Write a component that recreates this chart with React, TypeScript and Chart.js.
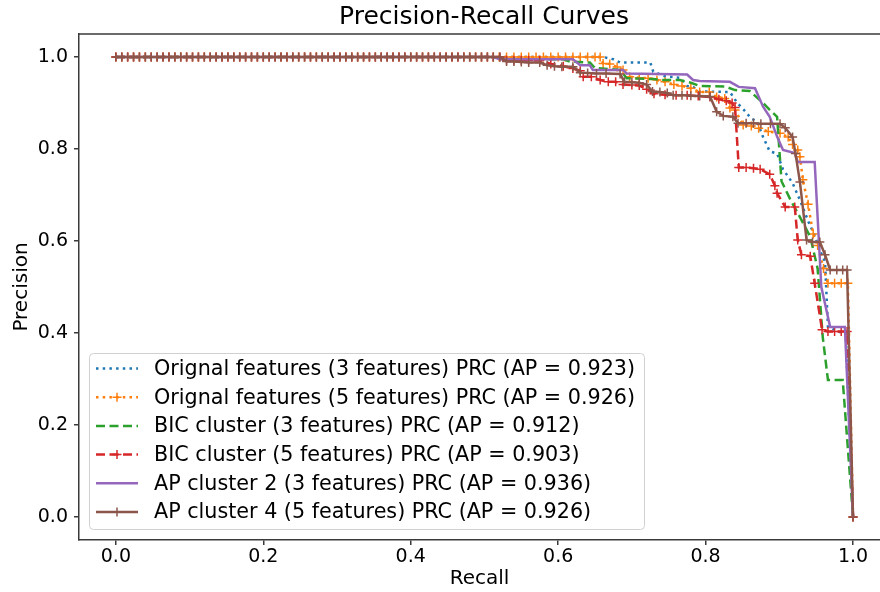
import React, { useEffect, useRef } from 'react';
import { Chart, registerables } from 'chart.js';

Chart.register(...registerables);

const TITLE = 'Precision-Recall Curves';
const X_LABEL = 'Recall';
const Y_LABEL = 'Precision';
const X_TICKS = [0, 0.2, 0.4, 0.6, 0.8, 1.0];
const Y_TICKS = [0, 0.2, 0.4, 0.6, 0.8, 1.0];

const LABELS = [
  'Orignal features (3 features) PRC (AP = 0.923)',
  'Orignal features (5 features) PRC (AP = 0.926)',
  'BIC cluster (3 features) PRC (AP = 0.912)',
  'BIC cluster (5 features) PRC (AP = 0.903)',
  'AP cluster 2 (3 features) PRC (AP = 0.936)',
  'AP cluster 4 (5 features) PRC (AP = 0.926)',
];

// shared flat start (precision = 1.0) of every curve
const TOP_RECALL = [
  0, 0.008, 0.016, 0.024, 0.032, 0.04, 0.048, 0.056, 0.064, 0.072, 0.08, 0.088, 0.096,
  0.104, 0.112, 0.12, 0.128, 0.136, 0.144, 0.152, 0.16, 0.168, 0.176, 0.184, 0.192, 0.2,
  0.208, 0.216, 0.224, 0.232, 0.24, 0.248, 0.256, 0.264, 0.272, 0.28, 0.288, 0.296, 0.304,
  0.312, 0.32, 0.328, 0.336, 0.344, 0.352, 0.36, 0.368, 0.376, 0.384, 0.392, 0.4, 0.408,
  0.416, 0.424, 0.432, 0.44, 0.448, 0.456, 0.464, 0.472, 0.48, 0.488, 0.496, 0.504, 0.512,
];
const TOP_PRECISION = [
  1, 1, 1, 1, 1, 1, 1, 1, 1, 1, 1, 1, 1,
  1, 1, 1, 1, 1, 1, 1, 1, 1, 1, 1, 1, 1,
  1, 1, 1, 1, 1, 1, 1, 1, 1, 1, 1, 1, 1,
  1, 1, 1, 1, 1, 1, 1, 1, 1, 1, 1, 1, 1,
  1, 1, 1, 1, 1, 1, 1, 1, 1, 1, 1, 1, 1,
];

const BLUE_RECALL = [0.661, 0.675, 0.684, 0.725, 0.729, 0.745, 0.765, 0.775, 0.783, 0.792, 0.833, 0.843, 0.852, 0.862, 0.870, 0.878, 0.887, 0.897, 0.905, 0.912, 0.918, 0.928, 0.940, 0.948, 0.955, 0.962, 0.966, 0.982, 0.990, 1.0];
const BLUE_PRECISION = [1.0, 0.995, 0.988, 0.988, 0.968, 0.958, 0.955, 0.937, 0.935, 0.925, 0.924, 0.900, 0.885, 0.866, 0.860, 0.826, 0.795, 0.790, 0.756, 0.740, 0.726, 0.689, 0.640, 0.612, 0.580, 0.555, 0.413, 0.402, 0.400, 0.0];

const ORANGE_RECALL = [0.52, 0.53, 0.54, 0.55, 0.56, 0.57, 0.58, 0.59, 0.60, 0.61, 0.62, 0.63, 0.64, 0.65, 0.657, 0.661, 0.670, 0.680, 0.688, 0.697, 0.710, 0.722, 0.734, 0.745, 0.757, 0.768, 0.780, 0.792, 0.805, 0.815, 0.826, 0.833, 0.840, 0.851, 0.862, 0.872, 0.885, 0.901, 0.912, 0.918, 0.925, 0.928, 0.932, 0.939, 0.946, 0.952, 0.960, 0.966, 0.975, 0.984, 0.993, 1.0];
const ORANGE_PRECISION = [1, 1, 1, 1, 1, 1, 1, 1, 1, 1, 1, 1, 1, 1, 1, 0.986, 0.985, 0.978, 0.972, 0.957, 0.955, 0.954, 0.950, 0.946, 0.940, 0.937, 0.932, 0.924, 0.924, 0.913, 0.910, 0.889, 0.885, 0.852, 0.850, 0.845, 0.838, 0.834, 0.826, 0.810, 0.798, 0.783, 0.733, 0.680, 0.615, 0.590, 0.540, 0.508, 0.508, 0.508, 0.508, 0.0];

const GREEN_RECALL = [0.525, 0.607, 0.616, 0.643, 0.650, 0.684, 0.693, 0.729, 0.740, 0.765, 0.780, 0.792, 0.826, 0.840, 0.860, 0.878, 0.887, 0.897, 0.900, 0.903, 0.915, 0.928, 0.942, 0.952, 0.959, 0.966, 0.986, 1.0];
const GREEN_PRECISION = [0.995, 0.995, 0.990, 0.988, 0.976, 0.972, 0.954, 0.952, 0.950, 0.950, 0.944, 0.937, 0.936, 0.928, 0.926, 0.900, 0.885, 0.870, 0.800, 0.730, 0.690, 0.652, 0.609, 0.540, 0.390, 0.298, 0.298, 0.0];

const RED_RECALL = [0.521, 0.530, 0.540, 0.550, 0.560, 0.575, 0.590, 0.607, 0.620, 0.630, 0.634, 0.645, 0.657, 0.668, 0.678, 0.688, 0.700, 0.710, 0.720, 0.730, 0.745, 0.760, 0.775, 0.790, 0.806, 0.818, 0.828, 0.836, 0.840, 0.845, 0.855, 0.865, 0.874, 0.887, 0.894, 0.897, 0.908, 0.921, 0.925, 0.930, 0.942, 0.948, 0.958, 0.966, 0.975, 0.984, 0.992, 1.0];
const RED_PRECISION = [1.0, 0.993, 0.993, 0.993, 0.993, 0.993, 0.985, 0.980, 0.975, 0.970, 0.957, 0.957, 0.950, 0.946, 0.946, 0.940, 0.939, 0.938, 0.930, 0.920, 0.918, 0.917, 0.917, 0.915, 0.913, 0.908, 0.905, 0.900, 0.890, 0.760, 0.760, 0.758, 0.756, 0.745, 0.720, 0.704, 0.674, 0.674, 0.602, 0.570, 0.567, 0.508, 0.407, 0.403, 0.403, 0.403, 0.403, 0.0];

const PURPLE_RECALL = [0.521, 0.620, 0.630, 0.643, 0.647, 0.688, 0.693, 0.775, 0.783, 0.792, 0.833, 0.845, 0.867, 0.878, 0.887, 0.897, 0.905, 0.921, 0.925, 0.948, 0.957, 0.969, 0.989, 1.0];
const PURPLE_PRECISION = [0.995, 0.995, 0.982, 0.982, 0.972, 0.972, 0.964, 0.962, 0.950, 0.948, 0.946, 0.935, 0.932, 0.892, 0.870, 0.827, 0.798, 0.791, 0.772, 0.772, 0.500, 0.413, 0.413, 0.0];

const BROWN_RECALL = [0.521, 0.530, 0.540, 0.550, 0.560, 0.575, 0.585, 0.595, 0.605, 0.620, 0.630, 0.640, 0.652, 0.665, 0.684, 0.690, 0.700, 0.710, 0.720, 0.728, 0.738, 0.748, 0.756, 0.768, 0.780, 0.792, 0.806, 0.815, 0.824, 0.837, 0.844, 0.855, 0.865, 0.875, 0.888, 0.901, 0.908, 0.918, 0.922, 0.928, 0.937, 0.945, 0.955, 0.962, 0.969, 0.978, 0.986, 0.992, 1.0];
const BROWN_PRECISION = [1.0, 0.990, 0.990, 0.989, 0.988, 0.988, 0.982, 0.980, 0.979, 0.979, 0.966, 0.965, 0.964, 0.964, 0.963, 0.946, 0.945, 0.944, 0.940, 0.925, 0.924, 0.922, 0.917, 0.917, 0.916, 0.915, 0.914, 0.881, 0.872, 0.870, 0.856, 0.856, 0.856, 0.855, 0.855, 0.855, 0.846, 0.826, 0.790, 0.728, 0.602, 0.598, 0.598, 0.570, 0.537, 0.537, 0.537, 0.537, 0.0];

const COLORS = ['#1f77b4', '#ff7f0e', '#2ca02c', '#d62728', '#9467bd', '#8c564b'];
const FONT = "'DejaVu Sans', sans-serif";

const SERIES = [
  { r: BLUE_RECALL, p: BLUE_PRECISION, dash: [2.5, 4.2], marker: false },
  { r: ORANGE_RECALL, p: ORANGE_PRECISION, dash: [2.5, 4.2], marker: true },
  { r: GREEN_RECALL, p: GREEN_PRECISION, dash: [9, 4.5], marker: false },
  { r: RED_RECALL, p: RED_PRECISION, dash: [9, 4.5], marker: true },
  { r: PURPLE_RECALL, p: PURPLE_PRECISION, dash: [], marker: false },
  { r: BROWN_RECALL, p: BROWN_PRECISION, dash: [], marker: true },
];

const AXIS_COLOR = '#3a3a3a';

const framePlugin = {
  id: 'frameAndLegend',
  afterDraw(chart: any) {
    const { ctx, chartArea } = chart;
    ctx.save();
    // title
    ctx.fillStyle = '#000';
    ctx.font = `25px ${FONT}`;
    ctx.textAlign = 'center';
    ctx.textBaseline = 'middle';
    ctx.fillText(TITLE, 484, 17.5);

    // top spine
    ctx.strokeStyle = AXIS_COLOR;
    ctx.lineWidth = 1.5;
    ctx.setLineDash([]);
    ctx.beginPath();
    ctx.moveTo(chartArea.left, chartArea.top);
    ctx.lineTo(chartArea.right, chartArea.top);
    ctx.stroke();

    // legend box
    const bx = 89.5, by = 353.5, bw = 555, bh = 176;
    ctx.beginPath();
    (ctx as any).roundRect(bx, by, bw, bh, 4);
    ctx.fillStyle = 'rgba(255,255,255,0.8)';
    ctx.fill();
    ctx.strokeStyle = '#d0d0d0';
    ctx.lineWidth = 1;
    ctx.stroke();

    chart.data.datasets.forEach((ds: any, i: number) => {
      const y = 368.5 + i * 28.7;
      ctx.setLineDash(ds.borderDash || []);
      ctx.strokeStyle = ds.borderColor;
      ctx.lineWidth = ds.borderWidth;
      ctx.lineCap = 'butt';
      ctx.beginPath();
      ctx.moveTo(96, y);
      ctx.lineTo(138, y);
      ctx.stroke();
      ctx.setLineDash([]);
      if (ds.pointRadius > 0) {
        const r = ds.pointRadius;
        ctx.lineWidth = ds.pointBorderWidth;
        ctx.beginPath();
        ctx.moveTo(117 - r, y);
        ctx.lineTo(117 + r, y);
        ctx.moveTo(117, y - r);
        ctx.lineTo(117, y + r);
        ctx.stroke();
      }
      ctx.fillStyle = '#000';
      ctx.font = `20.7px ${FONT}`;
      ctx.textBaseline = 'middle';
      ctx.textAlign = 'left';
      ctx.fillText(ds.label, 154, y + 1);
    });
    ctx.restore();
  },
};

export default function App() {
  const ref = useRef<HTMLCanvasElement | null>(null);
  useEffect(() => {
    if (!ref.current) return;
    const datasets = SERIES.map((s, i) => {
      const rec = [...TOP_RECALL, ...s.r];
      const pre = [...TOP_PRECISION, ...s.p];
      return {
        label: LABELS[i],
        data: rec.map((x, k) => ({ x, y: pre[k] })),
        borderColor: COLORS[i],
        backgroundColor: COLORS[i],
        borderWidth: 2.5,
        borderDash: s.dash,
        pointStyle: 'cross',
        pointRadius: s.marker ? 4.5 : 0,
        pointBorderWidth: 1.5,
        pointBorderColor: COLORS[i],
        tension: 0,
        fill: false,
        order: 5 - i,
      };
    });
    const chart = new Chart(ref.current, {
      type: 'line',
      data: { datasets },
      plugins: [framePlugin],
      options: {
        responsive: false,
        animation: false,
        events: [],
        layout: { autoPadding: false, padding: { top: 34, left: 0, right: 0, bottom: 0 } },
        plugins: {
          legend: { display: false },
          tooltip: { enabled: false },
          title: { display: false },
        },
        scales: {
          x: {
            type: 'linear',
            min: -0.05,
            max: 1.0366,
            afterBuildTicks: (s: any) => { s.ticks = X_TICKS.map((v) => ({ value: v })); },
            afterFit: (s: any) => { s.height = 52; s.paddingLeft = 0; s.paddingRight = 0; },
            ticks: {
              color: '#000',
              font: { family: FONT, size: 19 },
              padding: 1,
              maxRotation: 0,
              callback: (v: any) => Number(v).toFixed(1),
            },
            grid: { display: true, drawOnChartArea: false, drawTicks: true, tickLength: 5, color: AXIS_COLOR, lineWidth: 1.5 },
            border: { display: true, color: AXIS_COLOR, width: 1.5 },
            title: {
              display: true,
              text: X_LABEL,
              color: '#000',
              font: { family: FONT, size: 20 },
              padding: { top: 0, bottom: 1 },
            },
          },
          y: {
            type: 'linear',
            min: -0.05,
            max: 1.05,
            afterBuildTicks: (s: any) => { s.ticks = Y_TICKS.map((v) => ({ value: v })); },
            afterFit: (s: any) => { s.width = 79; s.paddingTop = 0; s.paddingBottom = 0; },
            ticks: {
              color: '#000',
              font: { family: FONT, size: 19 },
              padding: 6,
              callback: (v: any) => Number(v).toFixed(1),
            },
            grid: { display: true, drawOnChartArea: false, drawTicks: true, tickLength: 5, color: AXIS_COLOR, lineWidth: 1.5 },
            border: { display: true, color: AXIS_COLOR, width: 1.5 },
            title: {
              display: true,
              text: Y_LABEL,
              color: '#000',
              font: { family: FONT, size: 20 },
              padding: { top: 10, bottom: 0 },
            },
          },
        },
      } as any,
    });
    return () => chart.destroy();
  }, []);

  return (
    <div style={{ position: 'absolute', left: 0, top: 0, width: 880, height: 592, overflow: 'hidden', background: '#fff' }}>
      <canvas ref={ref} width={880} height={592} style={{ display: 'block', width: 880, height: 592 }} />
    </div>
  );
}
